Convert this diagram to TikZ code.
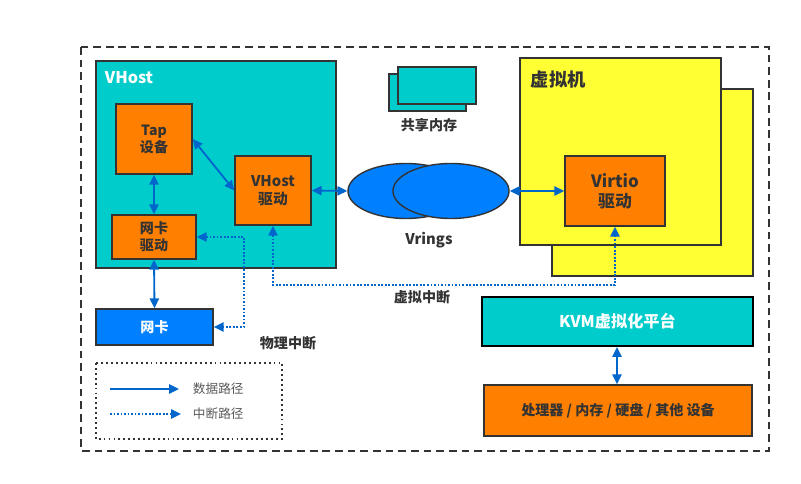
\documentclass[tikz,border=0pt]{standalone}
\usepackage{fontspec}
\setmainfont{Noto Sans CJK SC}
\usetikzlibrary{arrows.meta,shapes.geometric}
\definecolor{teal}{HTML}{00CCCC}
\definecolor{orangefill}{HTML}{FF8000}
\definecolor{vmyellow}{HTML}{FFFF33}
\definecolor{nicblue}{HTML}{0080FF}
\definecolor{arrowblue}{HTML}{0066CC}
\definecolor{edge}{HTML}{333333}
\tikzset{
    box/.style={draw=edge, line width=1pt, inner sep=0pt, align=center,
                font=\bfseries, text=edge},
    tealbox/.style={box, fill=teal},
    orangebox/.style={box, fill=orangefill},
    vmbox/.style={box, fill=vmyellow},
    datapath/.style={arrowblue, line width=1.3pt,
                     {Triangle[length=7pt,width=6.5pt]}-{Triangle[length=7pt,width=6.5pt]}},
    intrpath/.style={arrowblue, line width=1.3pt, dash pattern=on 1.3pt off 1.2pt,
                     {Triangle[length=7pt,width=6.5pt]}-{Triangle[length=7pt,width=6.5pt]}},
    caption/.style={font=\bfseries, text=edge}
}
\begin{document}
\begin{tikzpicture}[x=0.025cm, y=-0.025cm]
    \useasboundingbox (0,0) rectangle (801,484);
    % outer frame
    \draw[edge, line width=1.4pt, dash pattern=on 5.5pt off 3.5pt] (81,47) rectangle (769,451);

    % host side
    \node[tealbox, minimum width=6cm, minimum height=5.175cm] (vhost) at (216,164.5) {};
    \node[anchor=west, font=\fontsize{11.5}{13}\bfseries, text=white] (vhostlbl) at (100,78) {VHost};
    \node[orangebox, minimum width=1.9cm, minimum height=1.75cm] (tap) at (154,139) {Tap\\设备};
    \node[orangebox, minimum width=1.9cm, minimum height=1.725cm, font=\fontsize{10.5}{12.5}\bfseries] (vhostdrv) at (273,190.5) {VHost\\驱动};
    \node[orangebox, minimum width=2.1cm, minimum height=1.1cm] (nicdrv) at (154,237) {网卡\\驱动};
    \node[box, fill=nicblue, text=white, minimum width=2.925cm, minimum height=0.9cm] (nic) at (154.5,327) {网卡};

    % shared memory
    \node[tealbox, minimum width=1.925cm, minimum height=0.925cm] (shmback) at (427.5,92.5) {};
    \node[tealbox, minimum width=1.95cm, minimum height=0.925cm] (shmfront) at (437,85.5) {};
    \node[caption] (shmlbl) at (429,125) {共享内存};

    % vrings
    \node[ellipse, draw=edge, line width=1pt, fill=nicblue, minimum width=2.9cm, minimum height=1.375cm] (ringl) at (406,191) {};
    \node[ellipse, draw=edge, line width=1pt, fill=nicblue, minimum width=2.9cm, minimum height=1.375cm] (ringr) at (451,191) {};
    \node[caption, font=\fontsize{10.5}{12}\bfseries] (ringlbl) at (429,240) {Vrings};

    % guest side
    \node[vmbox, minimum width=5.025cm, minimum height=4.675cm] (vmback) at (652.5,182.5) {};
    \node[vmbox, minimum width=5.025cm, minimum height=4.675cm] (vm) at (620.5,151.5) {};
    \node[caption, anchor=west, font=\fontsize{13}{15}\bfseries] (vmlbl) at (526,80) {虚拟机};
    \node[orangebox, minimum width=2.5cm, minimum height=1.75cm, font=\fontsize{12}{14}\bfseries] (virtio) at (615,191) {Virtio\\驱动};

    % kvm and hardware
    \node[tealbox, draw=black, line width=1.3pt, text=white, minimum width=6.775cm, minimum height=1.225cm, font=\fontsize{11.5}{13}\bfseries] (kvm) at (617.5,321.5) {KVM虚拟化平台};
    \node[orangebox, minimum width=6.7cm, minimum height=1.275cm] (hw) at (618,410.5) {处理器 / 内存 / 硬盘 / 其他 设备};

    % data paths
    \draw[datapath] (tap.east) -- (vhostdrv.west);
    \draw[datapath] (tap.south) -- (nicdrv.north);
    \draw[datapath] (nicdrv.south) -- (nic.north);
    \draw[datapath] (vhostdrv.east) -- (ringl.west);
    \draw[datapath] (ringr.east) -- (virtio.west);
    \draw[datapath] (kvm.south -| 617,0) -- (hw.north -| 617,0);

    % interrupts
    \coordinate (pirq) at (244,0);
    \coordinate (virq) at (0,285);
    \draw[intrpath] (nicdrv.east) -- (nicdrv.east -| pirq) |- (nic.east);
    \draw[intrpath] (vhostdrv.south) -- (vhostdrv.south |- virq) -| (virtio.south);
    \node[caption] (pirqlbl) at (288,343) {物理中断};
    \node[caption] (virqlbl) at (422,297) {虚拟中断};

    % legend
    \draw[edge, line width=1.3pt, dash pattern=on 1.3pt off 2.2pt] (96,363) rectangle (282,439);
    \coordinate (dataa) at (110,389);
    \coordinate (datab) at (179,389);
    \coordinate (intra) at (110,414);
    \coordinate (intrb) at (181,414);
    \draw[arrowblue, line width=1.3pt, -{Triangle[length=7pt,width=6.5pt]}] (dataa) -- (datab);
    \draw[arrowblue, line width=1.3pt, dash pattern=on 1.3pt off 1.2pt, -{Triangle[length=7pt,width=6.5pt]}] (intra) -- (intrb);
    \node[anchor=west, font=\small, text=black!65] (datalbl) at (188,389) {数据路径};
    \node[anchor=west, font=\small, text=black!65] (intrlbl) at (188,414) {中断路径};
\end{tikzpicture}
\end{document}
